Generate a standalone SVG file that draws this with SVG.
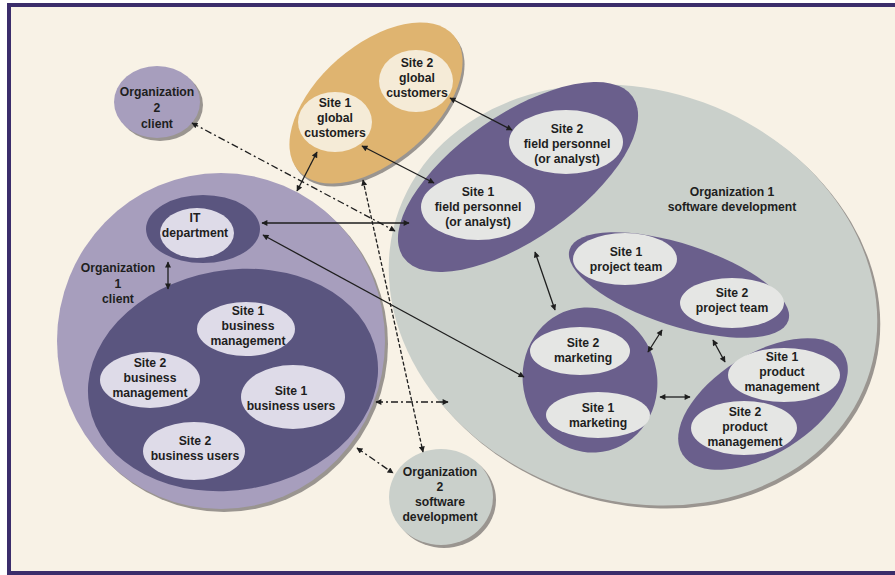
<svg xmlns="http://www.w3.org/2000/svg" width="895" height="575" viewBox="0 0 895 575">
<style>
.t{font-family:"Liberation Sans",Arial,sans-serif;font-weight:bold;font-size:13.4px;fill:#1e1e1e;text-anchor:middle}
.sh{fill:#9a9590}
.lav{fill:#a79ebd}
.dk{fill:#5a557f}
.md{fill:#6a5f8c}
.gg{fill:#cad0cb}
.tan{fill:#dfb470}
.lg{fill:#e5e6e4}
.ll{fill:#dedbe8}
.lc{fill:#f5ebd7}
.c{stroke:#1e1e1e;stroke-width:1.3;fill:none;marker-start:url(#a);marker-end:url(#a)}
.dd{stroke-dasharray:7 3 2 3}
.ds{stroke-dasharray:4 2}
</style>
<defs>
<marker id="a" viewBox="0 0 10 10" refX="9" refY="5" markerWidth="9" markerHeight="6" orient="auto-start-reverse" markerUnits="userSpaceOnUse"><path d="M0,0 L10,5 L0,10 z" fill="#1e1e1e"/></marker>
</defs>
<rect width="895" height="575" fill="#ffffff"/>
<rect x="9" y="5" width="900" height="568" fill="#f8f2e6" stroke="#3b2d6b" stroke-width="4"/>

<g id="org1-software-development">
<ellipse class="sh" cx="0" cy="0" rx="249" ry="205" transform="translate(636,298) rotate(20)"/>
<ellipse class="gg" cx="0" cy="0" rx="249" ry="205" transform="translate(633,295) rotate(20)"/>
<text class="t" transform="translate(732 0) scale(.91 1)"><tspan x="0" y="196.5">Organization 1</tspan><tspan x="0" y="211.5">software development</tspan></text>
</g>

<g id="org1-client">
<ellipse class="sh" cx="224" cy="344" rx="164" ry="168"/>
<ellipse class="lav" cx="221" cy="341" rx="164" ry="168"/>
<text class="t" transform="translate(118 0) scale(.91 1)"><tspan x="0" y="272">Organization</tspan><tspan x="0" y="288">1</tspan><tspan x="0" y="303">client</tspan></text>
</g>

<g id="business-group">
<ellipse class="dk" cx="0" cy="0" rx="146" ry="110" transform="translate(233,380) rotate(-10)"/>
</g>

<g id="it-department">
<ellipse class="dk" cx="203" cy="229" rx="57" ry="34"/>
<ellipse class="ll" cx="197" cy="233" rx="37" ry="25"/>
<text class="t" transform="translate(195 0) scale(.91 1)"><tspan x="0" y="222">IT</tspan><tspan x="0" y="237">department</tspan></text>
</g>

<g id="site1-business-management">
<ellipse class="ll" cx="246" cy="329" rx="49" ry="27"/>
<text class="t" transform="translate(248 0) scale(.91 1)"><tspan x="0" y="315">Site 1</tspan><tspan x="0" y="330">business</tspan><tspan x="0" y="345">management</tspan></text>
</g>

<g id="site2-business-management">
<ellipse class="ll" cx="150" cy="380" rx="50" ry="28"/>
<text class="t" transform="translate(150 0) scale(.91 1)"><tspan x="0" y="367">Site 2</tspan><tspan x="0" y="382">business</tspan><tspan x="0" y="397">management</tspan></text>
</g>

<g id="site1-business-users">
<ellipse class="ll" cx="293" cy="397" rx="52" ry="32"/>
<text class="t" transform="translate(291 0) scale(.91 1)"><tspan x="0" y="395">Site 1</tspan><tspan x="0" y="410">business users</tspan></text>
</g>

<g id="site2-business-users">
<ellipse class="ll" cx="194" cy="451" rx="51" ry="29"/>
<text class="t" transform="translate(195 0) scale(.91 1)"><tspan x="0" y="445">Site 2</tspan><tspan x="0" y="460">business users</tspan></text>
</g>

<g id="org2-client">
<ellipse class="sh" cx="160" cy="105" rx="43" ry="36"/>
<ellipse class="lav" cx="157" cy="102" rx="43" ry="36"/>
<text class="t" transform="translate(157 0) scale(.91 1)"><tspan x="0" y="96">Organization</tspan><tspan x="0" y="112">2</tspan><tspan x="0" y="128">client</tspan></text>
</g>

<g id="global-customers">
<ellipse class="sh" cx="0" cy="0" rx="103" ry="58" transform="translate(378,106) rotate(-41)"/>
<ellipse class="tan" cx="0" cy="0" rx="103" ry="58" transform="translate(376,103) rotate(-41)"/>
</g>

<g id="site1-global-customers">
<ellipse class="lc" cx="335" cy="122" rx="37" ry="30"/>
<text class="t" transform="translate(335 0) scale(.91 1)"><tspan x="0" y="107">Site 1</tspan><tspan x="0" y="122">global</tspan><tspan x="0" y="137">customers</tspan></text>
</g>

<g id="site2-global-customers">
<ellipse class="lc" cx="416" cy="81" rx="37" ry="31"/>
<text class="t" transform="translate(417 0) scale(.91 1)"><tspan x="0" y="67">Site 2</tspan><tspan x="0" y="82">global</tspan><tspan x="0" y="97">customers</tspan></text>
</g>

<g id="field-personnel">
<ellipse class="md" cx="0" cy="0" rx="140" ry="62" transform="translate(518,177) rotate(-35)"/>
</g>

<g id="site2-field-personnel">
<ellipse class="lg" cx="566" cy="142" rx="57" ry="32"/>
<text class="t" transform="translate(567 0) scale(.91 1)"><tspan x="0" y="133">Site 2</tspan><tspan x="0" y="148">field personnel</tspan><tspan x="0" y="163">(or analyst)</tspan></text>
</g>

<g id="site1-field-personnel">
<ellipse class="lg" cx="478" cy="207" rx="57" ry="33"/>
<text class="t" transform="translate(478 0) scale(.91 1)"><tspan x="0" y="196">Site 1</tspan><tspan x="0" y="211">field personnel</tspan><tspan x="0" y="226">(or analyst)</tspan></text>
</g>

<g id="project-team">
<ellipse class="md" cx="0" cy="0" rx="115" ry="41" transform="translate(679,285) rotate(18)"/>
</g>

<g id="site1-project-team">
<ellipse class="lg" cx="625" cy="259" rx="52" ry="26"/>
<text class="t" transform="translate(626 0) scale(.91 1)"><tspan x="0" y="256.5">Site 1</tspan><tspan x="0" y="271.5">project team</tspan></text>
</g>

<g id="site2-project-team">
<ellipse class="lg" cx="732" cy="303" rx="52" ry="25"/>
<text class="t" transform="translate(732 0) scale(.91 1)"><tspan x="0" y="297.5">Site 2</tspan><tspan x="0" y="312.5">project team</tspan></text>
</g>

<g id="marketing">
<ellipse class="md" cx="0" cy="0" rx="67" ry="73" transform="translate(590,380) rotate(-15)"/>
</g>

<g id="site2-marketing">
<ellipse class="lg" cx="580" cy="351" rx="50" ry="24"/>
<text class="t" transform="translate(583 0) scale(.91 1)"><tspan x="0" y="347.5">Site 2</tspan><tspan x="0" y="362.5">marketing</tspan></text>
</g>

<g id="site1-marketing">
<ellipse class="lg" cx="598" cy="415" rx="52" ry="23"/>
<text class="t" transform="translate(598 0) scale(.91 1)"><tspan x="0" y="412.5">Site 1</tspan><tspan x="0" y="427.5">marketing</tspan></text>
</g>

<g id="product-management">
<ellipse class="md" cx="0" cy="0" rx="95" ry="50" transform="translate(763,404) rotate(-32)"/>
</g>

<g id="site1-product-management">
<ellipse class="lg" cx="784" cy="375" rx="56" ry="27"/>
<text class="t" transform="translate(782 0) scale(.91 1)"><tspan x="0" y="361">Site 1</tspan><tspan x="0" y="376">product</tspan><tspan x="0" y="391">management</tspan></text>
</g>

<g id="site2-product-management">
<ellipse class="lg" cx="744" cy="428" rx="53" ry="27"/>
<text class="t" transform="translate(745 0) scale(.91 1)"><tspan x="0" y="416">Site 2</tspan><tspan x="0" y="431">product</tspan><tspan x="0" y="446">management</tspan></text>
</g>

<g id="org2-software-development">
<ellipse class="sh" cx="444" cy="500" rx="52" ry="48"/>
<ellipse class="gg" cx="441" cy="497" rx="52" ry="48"/>
<text class="t" transform="translate(440 0) scale(.91 1)"><tspan x="0" y="476">Organization</tspan><tspan x="0" y="491">2</tspan><tspan x="0" y="506">software</tspan><tspan x="0" y="521">development</tspan></text>
</g>

<g id="connectors">
<line class="c dd" x1="192" y1="123" x2="395" y2="231"/>
<line class="c" x1="262" y1="223" x2="409" y2="223"/>
<line class="c" x1="263" y1="235" x2="524" y2="377"/>
<line class="c" x1="317" y1="152" x2="297" y2="191"/>
<line class="c" x1="362" y1="146" x2="434" y2="183"/>
<line class="c" x1="450" y1="98" x2="512" y2="130"/>
<line class="c ds" x1="363" y1="180" x2="423" y2="452"/>
<line class="c dd" x1="376" y1="402" x2="448" y2="402"/>
<line class="c dd" x1="357" y1="448" x2="393" y2="473"/>
<line class="c" x1="535" y1="252" x2="555" y2="310"/>
<line class="c" x1="648" y1="352" x2="662" y2="330"/>
<line class="c" x1="713" y1="340" x2="725" y2="362"/>
<line class="c" x1="660" y1="397" x2="690" y2="397"/>
<line class="c" x1="168" y1="262" x2="168" y2="289"/>
</g>
</svg>
